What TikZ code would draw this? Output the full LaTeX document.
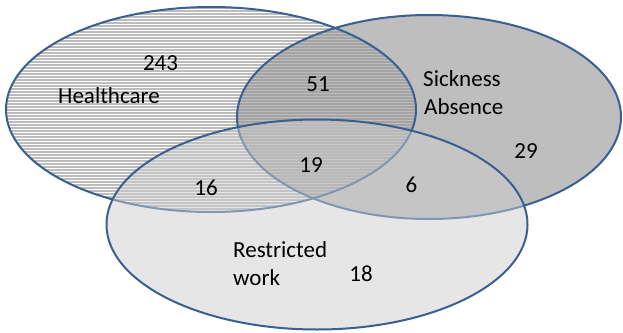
\documentclass[tikz,border=0pt]{standalone}
\usepackage{fontspec}
\setmainfont{Carlito}
\begin{document}
\begin{tikzpicture}[x=1pt,y=-1pt,
  lbl/.style={inner sep=0pt,font=\fontsize{23}{28}\selectfont},
  border/.style={draw=setblue,line width=2pt}]
\definecolor{setblue}{RGB}{58,95,145}
\definecolor{sickfill}{RGB}{150,150,150}
\definecolor{restfill}{RGB}{205,205,205}
\definecolor{hatch}{RGB}{188,188,188}
\useasboundingbox (0,0) rectangle (623,332);
% named centres
\coordinate (hc) at (211,109.5);
\coordinate (sa) at (429,117);
\coordinate (rw) at (317,224.5);
% Healthcare: white with horizontal hatching
\fill[white] (hc) ellipse [x radius=205,y radius=102.5];
\begin{scope}
  \clip (hc) ellipse [x radius=205,y radius=102.5];
  \foreach \yy in {5,8,...,215} {\draw[hatch,line width=1.3pt] (0,\yy) -- (420,\yy);}
\end{scope}
% Sickness Absence fill
\fill[sickfill,fill opacity=0.62] (sa) ellipse [x radius=192,y radius=102];
% borders
\draw[border] (hc) ellipse [x radius=205,y radius=102.5];
\draw[border] (sa) ellipse [x radius=192,y radius=102];
% Restricted work on top
\fill[restfill,fill opacity=0.5] (rw) ellipse [x radius=210.5,y radius=105];
\draw[border] (rw) ellipse [x radius=210.5,y radius=105];
% labels
\node[lbl,anchor=base] (n243) at (160.5,70) {243};
\node[lbl,anchor=base west] (thc) at (58,103) {Healthcare};
\node[lbl,anchor=base] (n51) at (318,91) {51};
\node[lbl,anchor=base west] (tsa1) at (423,86) {Sickness};
\node[lbl,anchor=base west] (tsa2) at (424,114) {Absence};
\node[lbl,anchor=base] (n29) at (526,158) {29};
\node[lbl,anchor=base] (n19) at (311,172) {19};
\node[lbl,anchor=base] (n6) at (411.5,192) {6};
\node[lbl,anchor=base] (n16) at (206,195) {16};
\node[lbl,anchor=base west] (trw1) at (233,257) {Restricted};
\node[lbl,anchor=base west] (trw2) at (233,285) {work};
\node[lbl,anchor=base] (n18) at (361,281) {18};
\end{tikzpicture}
\end{document}
